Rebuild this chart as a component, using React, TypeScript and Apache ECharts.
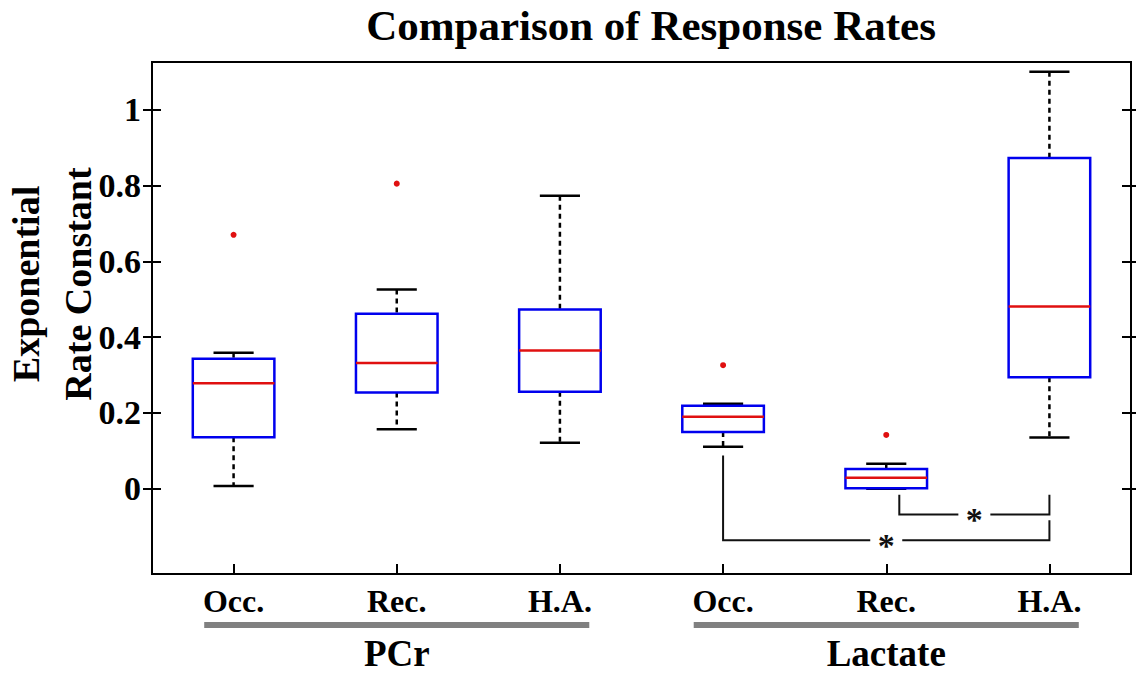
import React, { useEffect, useRef } from "react";
import * as echarts from "echarts";

const categories = ["Occ.", "Rec.", "H.A.", "Occ.", "Rec.", "H.A."];
const groupNames = ["PCr", "Lactate"];
const groupSpans = [
  [0, 2],
  [3, 5],
];
// [lower whisker, q1, median, q3, upper whisker]
const boxStats = [
  [0.007, 0.136, 0.278, 0.343, 0.359],
  [0.157, 0.254, 0.332, 0.462, 0.526],
  [0.121, 0.256, 0.365, 0.473, 0.773],
  [0.111, 0.15, 0.19, 0.219, 0.224],
  [0.0, 0.001, 0.029, 0.052, 0.066],
  [0.135, 0.294, 0.481, 0.873, 1.1],
];
const outliers = [
  [0, 0.67],
  [1, 0.805],
  [3, 0.326],
  [4, 0.142],
];
const yTicks = [0, 0.2, 0.4, 0.6, 0.8, 1];
const yMin = -0.225;
const yMax = 1.126;
// [xLeft, xRight, yLeftTop, yRightTop, yBar]
const brackets = [
  [4.08, 5, -0.016, -0.016, -0.068],
  [3, 5, 0.088, -0.083, -0.136],
];
const bracketLabels = ["*", "*"];

const FONT = '"Liberation Serif", "Times New Roman", serif';

export default function App() {
  const ref = useRef<HTMLDivElement>(null);
  useEffect(() => {
    if (!ref.current) return;
    const chart = echarts.init(ref.current, null, { renderer: "svg" });
    const yAxisBase = {
      type: "value",
      min: yMin,
      max: yMax,
      splitLine: { show: false },
    };
    const tickStyle = { color: "#000", width: 2 };
    const option: any = {
      animation: false,
      backgroundColor: "#fff",
      title: {
        text: "Comparison of Response Rates",
        left: 646,
        top: -1,
        textAlign: "center",
        textStyle: { fontFamily: FONT, fontWeight: "bold", fontSize: 43, color: "#000" },
      },
      grid: {
        left: 152,
        right: 5,
        top: 62,
        bottom: 99,
        show: true,
        borderColor: "#000",
        borderWidth: 2,
      },
      xAxis: [
        {
          type: "category",
          data: categories,
          position: "bottom",
          axisLine: { show: true, onZero: false, lineStyle: { color: "#000", width: 2 } },
          axisTick: { show: true, inside: true, length: 10, alignWithLabel: true, lineStyle: tickStyle },
          axisLabel: {
            margin: 11,
            fontFamily: FONT,
            fontWeight: "bold",
            fontSize: 32,
            color: "#000",
          },
          splitLine: { show: false },
        },
        {
          type: "value",
          min: -0.5,
          max: 5.5,
          show: false,
          axisLine: { onZero: false },
        },
      ],
      yAxis: [
        {
          ...yAxisBase,
          position: "left",
          axisLine: { show: true, onZero: false, lineStyle: { color: "#000", width: 2 } },
          axisTick: { show: true, inside: true, length: 9, customValues: yTicks, lineStyle: tickStyle },
          axisLabel: {
            customValues: yTicks,
            margin: 11,
            fontFamily: FONT,
            fontWeight: "bold",
            fontSize: 34,
            color: "#000",
            formatter: (v: number) => String(+Number(v).toFixed(1)),
          },
        },
        {
          ...yAxisBase,
          position: "left",
          axisLine: { show: false, onZero: false },
          axisTick: { show: true, inside: false, length: 9, customValues: yTicks, lineStyle: tickStyle },
          axisLabel: { show: false },
        },
        {
          ...yAxisBase,
          position: "right",
          axisLine: { show: true, onZero: false, lineStyle: { color: "#000", width: 2 } },
          axisTick: { show: true, inside: true, length: 9, customValues: yTicks, lineStyle: tickStyle },
          axisLabel: { show: false },
        },
        {
          ...yAxisBase,
          position: "right",
          axisLine: { show: false, onZero: false },
          axisTick: { show: true, inside: false, length: 9, customValues: yTicks, lineStyle: tickStyle },
          axisLabel: { show: false },
        },
      ],
      series: [
        {
          type: "custom",
          xAxisIndex: 0,
          yAxisIndex: 0,
          data: boxStats.map((s, i) => [i, ...s]),
          encode: { x: 0, y: [1, 2, 3, 4, 5] },
          renderItem: (params: any, api: any) => {
            const idx = api.value(0);
            const mn = api.value(1);
            const q1 = api.value(2);
            const md = api.value(3);
            const q3 = api.value(4);
            const mx = api.value(5);
            const bw = api.size([1, 0])[0];
            const cx = api.coord([idx, md])[0];
            const y = (v: number) => api.coord([idx, v])[1];
            const hb = bw * 0.25;
            const hc = bw * 0.123;
            const dash = { stroke: "#000", lineWidth: 2.5, lineDash: [5, 4], fill: null };
            const solid = { stroke: "#000", lineWidth: 2.5, fill: null };
            return {
              type: "group",
              children: [
                { type: "line", shape: { x1: cx, y1: y(mx), x2: cx, y2: y(q3) }, style: dash },
                { type: "line", shape: { x1: cx, y1: y(q1), x2: cx, y2: y(mn) }, style: dash },
                { type: "line", shape: { x1: cx - hc, y1: y(mx), x2: cx + hc, y2: y(mx) }, style: solid },
                { type: "line", shape: { x1: cx - hc, y1: y(mn), x2: cx + hc, y2: y(mn) }, style: solid },
                {
                  type: "rect",
                  shape: { x: cx - hb, y: y(q3), width: 2 * hb, height: y(q1) - y(q3) },
                  style: { fill: "none", stroke: "#0000ee", lineWidth: 2.5 },
                },
                {
                  type: "line",
                  shape: { x1: cx - hb, y1: y(md), x2: cx + hb, y2: y(md) },
                  style: { stroke: "#e01010", lineWidth: 2.5 },
                },
              ],
            };
          },
          z: 3,
        },
        {
          type: "scatter",
          xAxisIndex: 0,
          yAxisIndex: 0,
          data: outliers,
          symbol: "circle",
          symbolSize: 6,
          itemStyle: { color: "#e01010", opacity: 1 },
          z: 4,
        },
        {
          type: "custom",
          xAxisIndex: 1,
          yAxisIndex: 0,
          data: brackets.map((b, i) => [...b, i]),
          encode: { x: [0, 1], y: [2, 3, 4] },
          renderItem: (params: any, api: any) => {
            const xl = api.coord([api.value(0), 0])[0];
            const xr = api.coord([api.value(1), 0])[0];
            const yl = api.coord([0, api.value(2)])[1];
            const yr = api.coord([0, api.value(3)])[1];
            const yb = api.coord([0, api.value(4)])[1];
            const xm = (xl + xr) / 2;
            const gap = 16;
            const st = { stroke: "#111", lineWidth: 2, fill: null };
            return {
              type: "group",
              children: [
                { type: "polyline", shape: { points: [[xl, yl], [xl, yb], [xm - gap, yb]] }, style: st },
                { type: "polyline", shape: { points: [[xm + gap, yb], [xr, yb], [xr, yr]] }, style: st },
                {
                  type: "text",
                  x: xm,
                  y: yb + 5,
                  style: {
                    text: bracketLabels[api.value(5)],
                    fontFamily: FONT,
                    fontWeight: "bold",
                    fontSize: 34,
                    fill: "#111",
                    align: "center",
                    verticalAlign: "middle",
                  },
                },
              ],
            };
          },
          z: 3,
        },
      ],
    };
    chart.setOption(option);

    const px = (v: number) => chart.convertToPixel({ xAxisIndex: 1 } as any, v) as number;
    const graphics: any[] = [];
    groupSpans.forEach((span, i) => {
      const x1 = px(span[0] - 0.18);
      const x2 = px(span[1] + 0.18);
      graphics.push({
        type: "rect",
        shape: { x: x1, y: 622, width: x2 - x1, height: 6 },
        style: { fill: "#808080" },
      });
      graphics.push({
        type: "text",
        x: (x1 + x2) / 2,
        y: 653,
        style: {
          text: groupNames[i],
          fontFamily: FONT,
          fontWeight: "bold",
          fontSize: 37,
          lineHeight: 36,
          fill: "#000",
          align: "center",
          verticalAlign: "middle",
        },
      });
    });
    graphics.push({
      type: "text",
      x: 52,
      y: 284,
      rotation: Math.PI / 2,
      style: {
        text: "Exponential\nRate Constant",
        fontFamily: FONT,
        fontWeight: "bold",
        fontSize: 38,
        lineHeight: 52,
        fill: "#000",
        align: "center",
        verticalAlign: "middle",
      },
    });
    chart.setOption({ graphic: graphics });

    return () => chart.dispose();
  }, []);
  return (
    <div
      ref={ref}
      style={{ position: "fixed", left: 0, top: 0, width: 1136, height: 673, background: "#fff" }}
    />
  );
}
